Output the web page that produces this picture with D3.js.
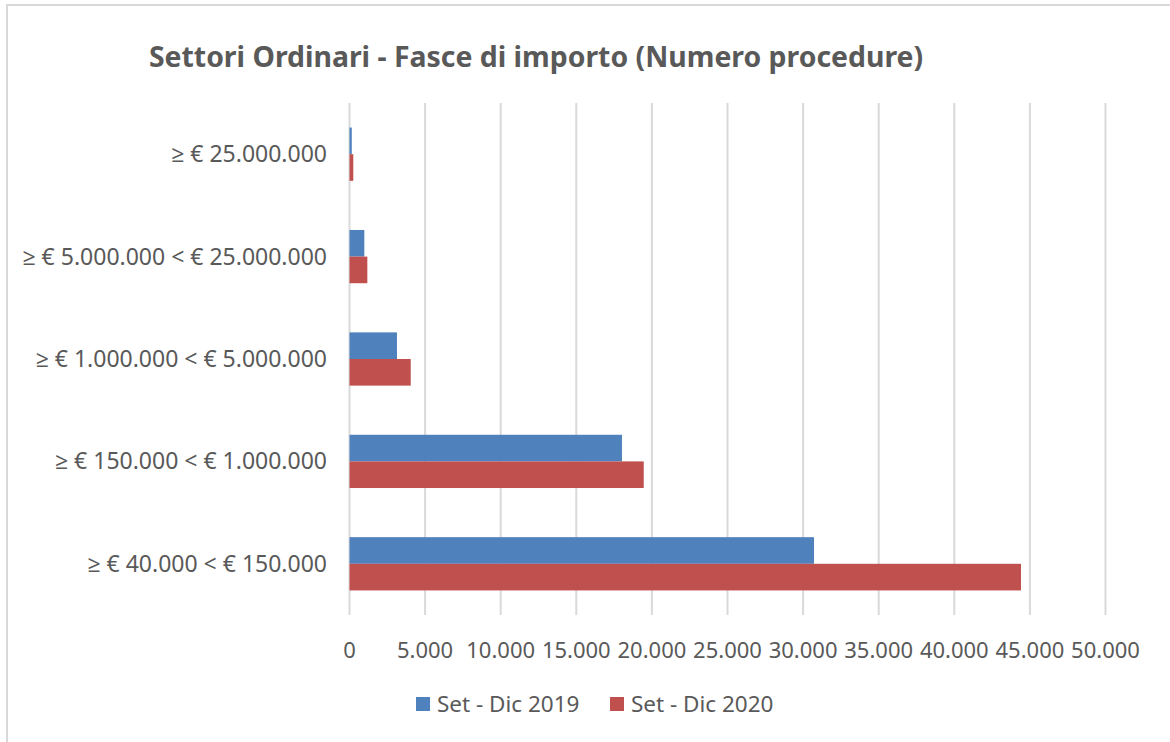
<!DOCTYPE html>
<html lang="it">
<head>
<meta charset="utf-8">
<title>Settori Ordinari</title>
<script src="https://cdnjs.cloudflare.com/ajax/libs/d3/7.8.5/d3.min.js"></script>
<style>
  body { margin:0; background:#fff; }
  svg text { font-family: "Noto Sans", "Open Sans", sans-serif; fill:#595959; }
</style>
</head>
<body>
<svg id="chart" width="1170" height="742"></svg>
<script>
// categories top to bottom, as shown
var categories = ["≥ € 25.000.000", "≥ € 5.000.000 < € 25.000.000", "≥ € 1.000.000 < € 5.000.000",
                  "≥ € 150.000 < € 1.000.000", "≥ € 40.000 < € 150.000"];
var seriesNames = ["Set - Dic 2019", "Set - Dic 2020"];
var values2019 = [150, 980, 3140, 18020, 30720];
var values2020 = [250, 1180, 4050, 19460, 44410];
var tickValues = [0, 5000, 10000, 15000, 20000, 25000, 30000, 35000, 40000, 45000, 50000];
var colors = ["#4F81BD", "#C0504D"];

var svg = d3.select("#chart");

// outer frame (only top/left visible in the crop)
svg.append("rect").attr("x", 7).attr("y", 5).attr("width", 1200).attr("height", 800)
  .attr("fill", "none").attr("stroke", "#D9D9D9").attr("stroke-width", 2);

svg.append("text").text("Settori Ordinari - Fasce di importo (Numero procedure)")
  .attr("x", 536).attr("y", 67).attr("text-anchor", "middle")
  .attr("font-size", "28.4px").attr("font-weight", "bold");

var x = d3.scaleLinear().domain([0, 50000]).range([349.5, 1105.5]);
var y = d3.scaleBand().domain(categories).range([103, 615]).paddingInner(0.48).paddingOuter(0.24);
var ySub = d3.scaleBand().domain(seriesNames).range([0, y.bandwidth()]);

// gridlines
svg.append("g").selectAll("line").data(tickValues).enter().append("line")
  .attr("x1", function(d){ return x(d); }).attr("x2", function(d){ return x(d); })
  .attr("y1", 103).attr("y2", 615)
  .attr("stroke", "#D9D9D9").attr("stroke-width", 2);

// x tick labels
var fmt = function(d){ return d === 0 ? "0" : d3.format(",")(d).replace(/,/g, "."); };
svg.append("g").selectAll("text").data(tickValues).enter().append("text")
  .attr("x", function(d){ return x(d); }).attr("y", 658)
  .attr("text-anchor", "middle").attr("font-size", "22px")
  .text(fmt);

// y labels
svg.append("g").selectAll("text").data(categories).enter().append("text")
  .attr("x", 327).attr("y", function(d){ return y(d) + y.bandwidth() / 2; })
  .attr("dy", "0.35em").attr("text-anchor", "end").attr("font-size", "23px")
  .text(function(d){ return d; });

// bars
var series = [values2019, values2020];
series.forEach(function(vals, si) {
  svg.append("g").selectAll("rect").data(vals).enter().append("rect")
    .attr("x", x(0))
    .attr("y", function(d, i){ return y(categories[i]) + ySub(seriesNames[si]); })
    .attr("width", function(d){ return x(d) - x(0); })
    .attr("height", ySub.bandwidth())
    .attr("fill", colors[si]);
});

// legend
var legendX = [416, 610];
seriesNames.forEach(function(name, i) {
  svg.append("rect").attr("x", legendX[i]).attr("y", 697).attr("width", 14).attr("height", 14)
    .attr("fill", colors[i]);
  svg.append("text").attr("x", legendX[i] + 21).attr("y", 712)
    .attr("font-size", "22.5px").text(name);
});
</script>
</body>
</html>
